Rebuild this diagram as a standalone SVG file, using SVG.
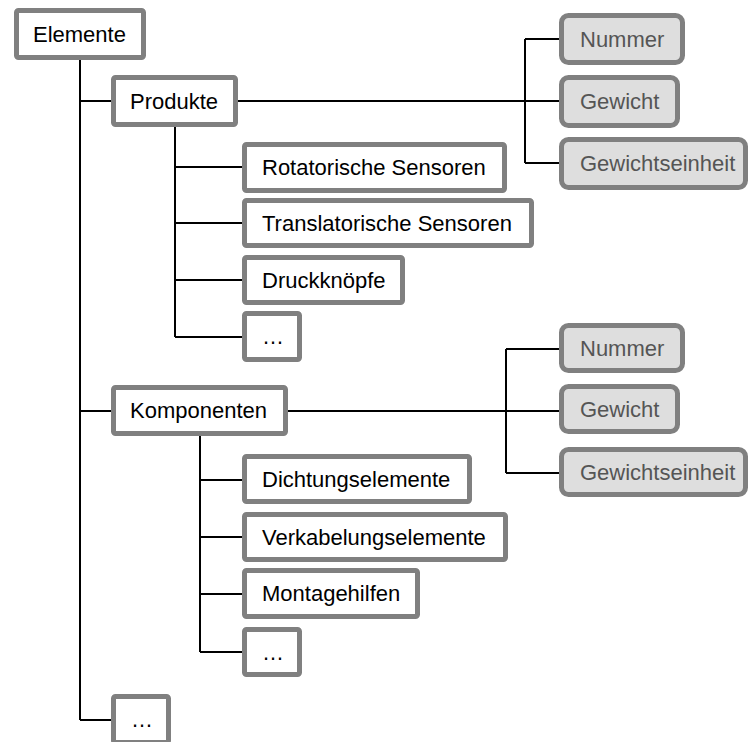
<svg xmlns="http://www.w3.org/2000/svg" width="749" height="742" viewBox="0 0 749 742">
<style>
.n rect{fill:#fff;stroke:#808080;stroke-width:5}
.a rect{fill:#dedede;stroke:#808080;stroke-width:5}
text{font-family:"Liberation Sans",Arial,sans-serif;font-size:22px}
.n text{fill:#000}
.a text{fill:#555}
#connectors path{fill:none;stroke:#000;stroke-width:2}
</style>
<rect width="749" height="742" fill="#fff"/>
<g id="connectors">
<path d="M80,60V720M80,101H111M80,411H111M80,720H111"/>
<path d="M175,127V337M175,167H242M175,223H242M175,280H242M175,337H242"/>
<path d="M200,436V652M200,480H242M200,537H242M200,594H242M200,652H242"/>
<path d="M238,101H525M525,39V163M525,39H559M525,101H559M525,163H559"/>
<path d="M288,411H506M506,349V473M506,349H559M506,411H559M506,473H559"/>
</g>
<g id="elemente" class="n"><rect x="16.5" y="10.5" width="127" height="47" rx="2"/><text x="33" y="42">Elemente</text></g>
<g id="produkte" class="n"><rect x="113.5" y="77.5" width="122" height="47" rx="2"/><text x="130" y="109">Produkte</text></g>
<g id="rotatorische" class="n"><rect x="244.5" y="144.5" width="260" height="46" rx="2"/><text x="262" y="175">Rotatorische Sensoren</text></g>
<g id="translatorische" class="n"><rect x="244.5" y="200.5" width="287" height="45" rx="2"/><text x="262" y="231">Translatorische Sensoren</text></g>
<g id="druckknoepfe" class="n"><rect x="244.5" y="257.5" width="158" height="45" rx="2"/><text x="262" y="288">Druckknöpfe</text></g>
<g id="produkte-more" class="n"><rect x="244.5" y="313.5" width="55" height="46" rx="2"/><text x="262" y="344">…</text></g>
<g id="komponenten" class="n"><rect x="113.5" y="387.5" width="172" height="46" rx="2"/><text x="130" y="418">Komponenten</text></g>
<g id="dichtungselemente" class="n"><rect x="244.5" y="456.5" width="225" height="45" rx="2"/><text x="262" y="487">Dichtungselemente</text></g>
<g id="verkabelungselemente" class="n"><rect x="244.5" y="514.5" width="261" height="45" rx="2"/><text x="262" y="545">Verkabelungselemente</text></g>
<g id="montagehilfen" class="n"><rect x="244.5" y="570.5" width="173" height="46" rx="2"/><text x="262" y="601">Montagehilfen</text></g>
<g id="komponenten-more" class="n"><rect x="244.5" y="629.5" width="55" height="45" rx="2"/><text x="262" y="660">…</text></g>
<g id="elemente-more" class="n"><rect x="113.5" y="696.5" width="55" height="46" rx="2"/><text x="131" y="727">…</text></g>
<g id="p-nummer" class="a"><rect x="561.5" y="15.5" width="121" height="47" rx="7"/><text x="580" y="47">Nummer</text></g>
<g id="p-gewicht" class="a"><rect x="561.5" y="77.5" width="116" height="48" rx="7"/><text x="580" y="109">Gewicht</text></g>
<g id="p-gewichtseinheit" class="a"><rect x="561.5" y="139.5" width="184" height="48" rx="7"/><text x="580" y="171">Gewichtseinheit</text></g>
<g id="k-nummer" class="a"><rect x="561.5" y="325.5" width="121" height="45" rx="7"/><text x="580" y="356">Nummer</text></g>
<g id="k-gewicht" class="a"><rect x="561.5" y="386.5" width="116" height="45" rx="7"/><text x="580" y="417">Gewicht</text></g>
<g id="k-gewichtseinheit" class="a"><rect x="561.5" y="449.5" width="184" height="45" rx="7"/><text x="580" y="480">Gewichtseinheit</text></g>
</svg>
